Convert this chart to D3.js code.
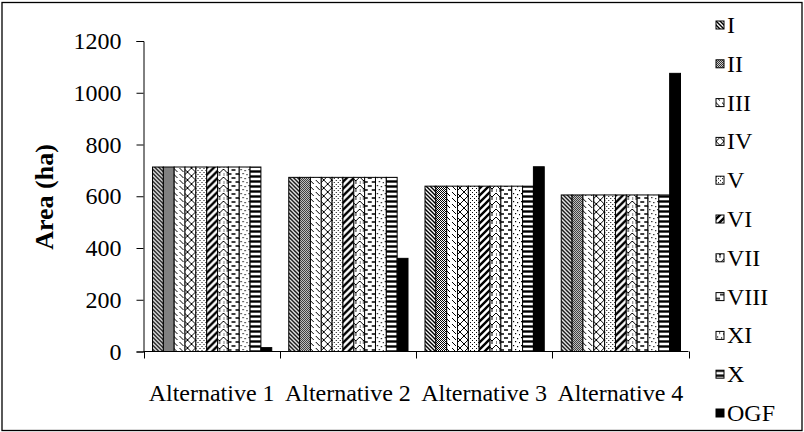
<!DOCTYPE html>
<meta charset="utf-8">
<script src="https://d3js.org/d3.v7.min.js"></script>
<style>
  body { margin: 0; background: #fff; }
</style>
<div id="my_dataviz"></div>
<script>

  // categories and series
  const categories = ["Alternative 1", "Alternative 2", "Alternative 3", "Alternative 4"]
  const seriesNames = ["I", "II", "III", "IV", "V", "VI", "VII", "VIII", "XI", "X", "OGF"]

  // area (ha) of classes I..X is the same within an alternative
  const classValues = [713, 673, 639, 605]
  const ogfValues = [15, 360, 714, 1075]
  const yTicks = [0, 200, 400, 600, 800, 1000, 1200]

  const FONT = "'Liberation Serif', 'Times New Roman', Times, serif"
  const width = 804, height = 432
  const plot = {left: 143.5, right: 688.5, top: 41, bottom: 351.5}

  const svg = d3.select("#my_dataviz")
    .append("svg")
      .attr("width", width)
      .attr("height", height)
      .style("font-family", FONT)

  // fill patterns (black and white, like the printed figure)
  const defs = svg.append("defs")
  function pattern(id, w, h) {
    const p = defs.append("pattern")
      .attr("id", id)
      .attr("patternUnits", "userSpaceOnUse")
      .attr("width", w)
      .attr("height", h)
    p.append("rect").attr("width", w).attr("height", h).attr("fill", "#fff")
    return p
  }
  function line(p, d, sw) {
    p.append("path").attr("d", d).attr("stroke", "#000").attr("stroke-width", sw).attr("fill", "none")
  }
  function dots(p, pts, s) {
    pts.forEach(q => p.append("rect").attr("x", q[0]).attr("y", q[1]).attr("width", s).attr("height", s).attr("fill", "#000"))
  }

  let p
  p = pattern("p0", 4, 4)           // I : dense downward diagonal
  line(p, "M-1,-1 L5,5 M-1,3 L1,5 M3,-1 L5,1", 1.4)
  p = pattern("p1", 2, 2)           // II : dark grey
  dots(p, [[0, 0], [1, 1]], 1)
  p = pattern("p2", 6, 6)           // III : light downward diagonal
  line(p, "M0,0 L4,4", 1)
  p = pattern("p3", 8, 8)           // IV : diagonal cross
  line(p, "M0,0 L8,8 M8,0 L0,8", 1)
  p = pattern("p4", 4, 4)           // V : dots
  dots(p, [[0, 0], [2, 2]], 1)
  p = pattern("p5", 7, 7)           // VI : wide upward diagonal
  line(p, "M-1,8 L8,-1 M-1,1 L1,-1 M6,8 L8,6", 2.4)
  p = pattern("p6", 8, 8)           // VII : weave
  line(p, "M0,1 L4,5 L8,1 M4,5 L4,8 M0,5 L0,8", 1)
  p = pattern("p7", 8, 8)           // VIII : dashed horizontal
  line(p, "M0,2 L4,2 M4,6 L8,6", 1.4)
  p = pattern("p8", 8, 8)           // XI : confetti
  dots(p, [[1, 1], [5, 2], [3, 5], [7, 6]], 1.2)
  p = pattern("p9", 5, 5)           // X : horizontal stripes
  line(p, "M0,1.5 L5,1.5", 2.4)
  p = pattern("p10", 4, 4)          // OGF : solid
  p.append("rect").attr("width", 4).attr("height", 4).attr("fill", "#000")

  const fillOf = name => `url(#p${seriesNames.indexOf(name)})`

  // outer frame
  svg.append("rect")
    .attr("x", 2).attr("y", 2.5)
    .attr("width", 800).attr("height", 428)
    .attr("fill", "none").attr("stroke", "#000").attr("stroke-width", 1.3)

  // scales
  const x0 = d3.scaleBand()
    .domain(categories)
    .range([plot.left, plot.right])
  const x1 = d3.scaleBand()
    .domain(seriesNames)
    .range([9, x0.bandwidth() - 8])
  const y = d3.scaleLinear()
    .domain([0, 1200])
    .range([plot.bottom, plot.top])

  // bars
  const data = categories.map((c, i) => ({
    cat: c,
    values: seriesNames.map(s => ({name: s, value: s === "OGF" ? ogfValues[i] : classValues[i]}))
  }))

  svg.append("g")
    .selectAll("g")
    .data(data)
    .join("g")
      .attr("transform", d => `translate(${x0(d.cat)},0)`)
    .selectAll("rect")
    .data(d => d.values)
    .join("rect")
      .attr("x", d => x1(d.name))
      .attr("y", d => y(d.value))
      .attr("width", x1.bandwidth())
      .attr("height", d => y(0) - y(d.value))
      .attr("fill", d => fillOf(d.name))
      .attr("stroke", "#000")
      .attr("stroke-width", 1)

  // Y axis
  const yAxis = svg.append("g")
    .attr("transform", `translate(${plot.left},0)`)
    .call(d3.axisLeft(y).tickValues(yTicks).tickSize(7).tickPadding(15).tickFormat(d3.format("d")))
  yAxis.attr("font-family", null).attr("font-size", null)
  yAxis.select(".domain").attr("stroke", "#000")
  yAxis.selectAll("text")
    .style("font-family", FONT)
    .style("font-size", "24px")

  // X axis: line with ticks between categories, labels in the middle
  const xAxis = svg.append("g")
  xAxis.append("line")
    .attr("x1", plot.left).attr("x2", plot.right)
    .attr("y1", plot.bottom).attr("y2", plot.bottom)
    .attr("stroke", "#000")
  const bounds = categories.map(c => x0(c)).concat([x0(categories[categories.length - 1]) + x0.bandwidth()])
  xAxis.selectAll(".tick")
    .data(bounds)
    .join("line")
      .attr("x1", d => Math.round(d) + 0.5).attr("x2", d => Math.round(d) + 0.5)
      .attr("y1", plot.bottom).attr("y2", plot.bottom + 7)
      .attr("stroke", "#000")
  xAxis.selectAll("text")
    .data(categories)
    .join("text")
      .attr("x", d => x0(d) + x0.bandwidth() / 2)
      .attr("y", 401)
      .attr("text-anchor", "middle")
      .style("font-family", FONT)
      .style("font-size", "24px")
      .text(d => d)

  // Y axis title
  svg.append("text")
    .attr("transform", "translate(53,197) rotate(-90)")
    .attr("text-anchor", "middle")
    .style("font-family", FONT)
    .style("font-size", "26px")
    .style("font-weight", "bold")
    .text("Area (ha)")

  // legend
  const legend = svg.append("g")
    .selectAll("g")
    .data(seriesNames)
    .join("g")
      .attr("transform", (d, i) => `translate(716,${25 + i * 38.8})`)
  legend.append("rect")
    .attr("x", 0).attr("y", -4)
    .attr("width", 8).attr("height", 8)
    .attr("fill", d => fillOf(d))
    .attr("stroke", "#000")
  legend.append("text")
    .attr("x", 11).attr("y", 8)
    .style("font-family", FONT)
    .style("font-size", "24px")
    .text(d => d)

</script>
